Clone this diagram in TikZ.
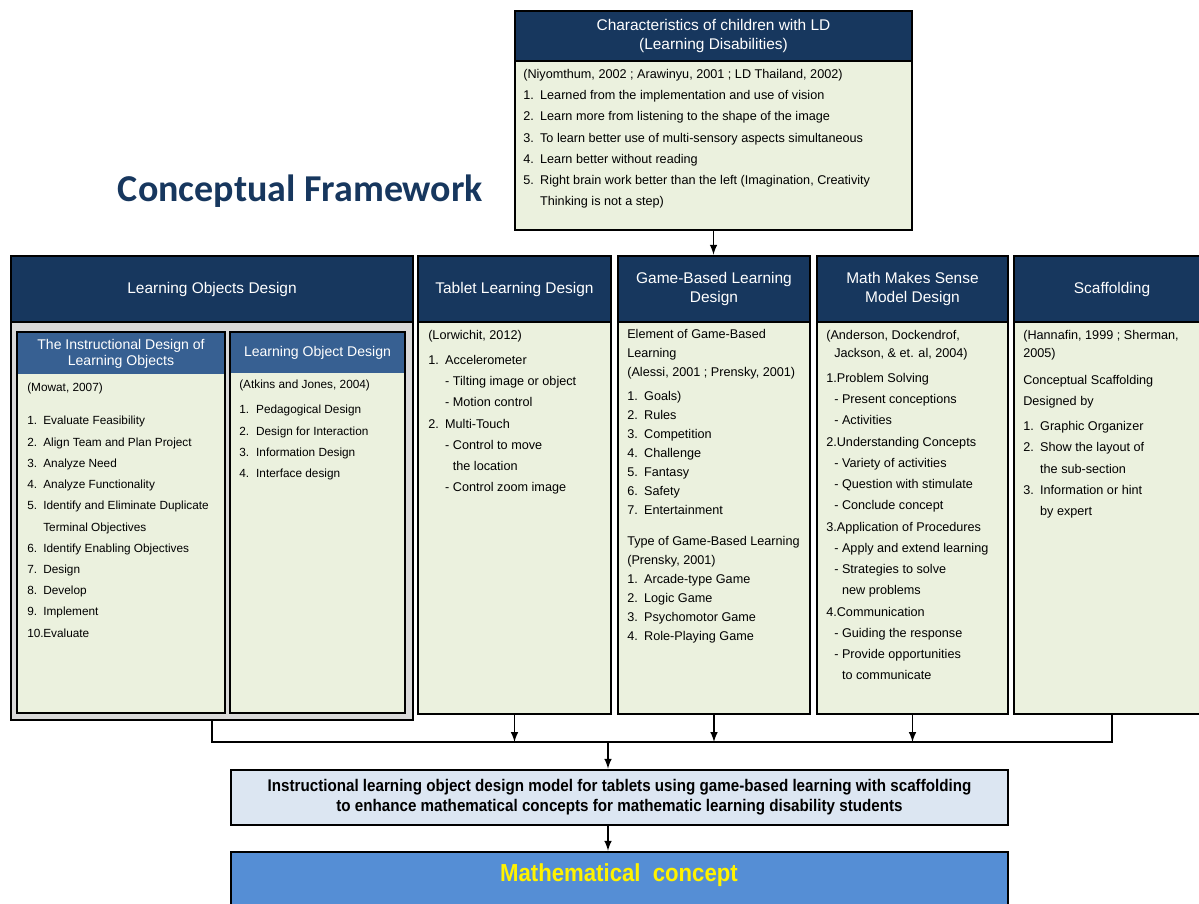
\documentclass[tikz,border=0pt]{standalone}
\usepackage{fontspec}
\setmainfont{Liberation Sans}
\newfontfamily\titlefont{Carlito}
\newfontfamily\narrowfont[FakeStretch=0.9]{Liberation Sans}
\usetikzlibrary{fit}

\definecolor{navy}{HTML}{17375E}
\definecolor{subblue}{HTML}{376092}
\definecolor{paleolive}{HTML}{EBF1DE}
\definecolor{panelgray}{HTML}{D9D9D9}
\definecolor{paleblue}{HTML}{DCE6F2}
\definecolor{midblue}{HTML}{558ED5}

% numbered entry and hanging indent
\newcommand{\itemno}[3][12pt]{\makebox[#1][l]{#2}#3}
\newcommand{\ind}{\hspace*{12pt}}

\begin{document}
\begin{tikzpicture}[x=0.025cm, y=-0.025cm,
    box/.style={draw=black, line width=1.8pt, inner sep=0pt},
    headbox/.style={box, fill=navy},
    headtext/.style={text=white, align=center, inner sep=0pt,
      font=\fontsize{11}{14.2}\selectfont},
    bodybox/.style={box, fill=paleolive},
    subhead/.style={inner sep=0pt, fill=subblue},
    subtext/.style={text=white, align=center, inner sep=0pt,
      font=\fontsize{10}{11.4}\selectfont},
    bodytext/.style={anchor=north west, inner sep=0pt, align=left,
      font=\fontsize{9}{15.1}\selectfont},
    wire/.style={line width=1.4pt},
    link/.style={wire, -latex}]

  \useasboundingbox (0,0) rectangle (1199,903);

  % Title
  \node[anchor=west, text=navy, font=\titlefont\bfseries\fontsize{27}{27}\selectfont]
    (title) at (113,191) {Conceptual Framework};

  % Characteristics box on top
  \node[bodybox, fit={(515,11) (912,230)}] (chars) {};
  \node[headbox, fit={(515,11) (912,61)}] (charshead) {};
  \node[headtext] (charstitle) at (charshead.center)
    {Characteristics of children with LD\\(Learning Disabilities)};
  \node[bodytext] (charslist) at (523,69) {%
    (Niyomthum, 2002 ; Arawinyu, 2001 ; LD Thailand, 2002)\\
    \itemno{1.}{Learned from the implementation and use of vision}\\
    \itemno{2.}{Learn more from listening to the shape of the image}\\
    \itemno{3.}{To learn better use of multi-sensory aspects simultaneous}\\
    \itemno{4.}{Learn better without reading}\\
    \itemno{5.}{Right brain work better than the left (Imagination, Creativity}\\
    \ind Thinking is not a step)};

  % Learning objects design with its two inner boxes
  \node[box, fill=panelgray, fit={(11,256) (413,720)}] (lo) {};
  \node[headbox, fit={(11,256) (413,322)}] (lohead) {};
  \node[headtext] (lotitle) at (lohead.center) {Learning Objects Design};

  \node[box, draw=none, fill=paleolive, fit={(18,333) (224,712)}] (idlo) {};
  \node[subhead, fit={(18,333) (224,374)}] (idlohead) {};
  \node[subtext] (idlotitle) at (idlohead.center)
    {The Instructional Design of\\Learning Objects};
  \draw[line width=1.5pt] (idlo.north west) rectangle (idlo.south east);
  \node[bodytext, font=\fontsize{8.4}{15.1}\selectfont] (idlolist) at (27,383) {%
    (Mowat, 2007)\\[8.4pt]
    \itemno[11.4pt]{1.}{Evaluate Feasibility}\\
    \itemno[11.4pt]{2.}{Align Team and Plan Project}\\
    \itemno[11.4pt]{3.}{Analyze Need}\\
    \itemno[11.4pt]{4.}{Analyze Functionality}\\
    \itemno[11.4pt]{5.}{Identify and Eliminate Duplicate}\\
    \hspace*{11.4pt}Terminal Objectives\\
    \itemno[11.4pt]{6.}{Identify Enabling Objectives}\\
    \itemno[11.4pt]{7.}{Design}\\
    \itemno[11.4pt]{8.}{Develop}\\
    \itemno[11.4pt]{9.}{Implement}\\
    \itemno[11.4pt]{10.}{Evaluate}};

  \node[box, draw=none, fill=paleolive, fit={(231,333) (404,712)}] (lod) {};
  \node[subhead, fit={(231,333) (404,373)}] (lodhead) {};
  \node[subtext] (lodtitle) at (lodhead.center) {Learning Object Design};
  \draw[line width=1.5pt] (lod.north west) rectangle (lod.south east);
  \node[bodytext, font=\fontsize{8.4}{15.1}\selectfont] (lodlist) at (239,380) {%
    (Atkins and Jones, 2004)\\[2.7pt]
    \itemno{1.}{Pedagogical Design}\\
    \itemno{2.}{Design for Interaction}\\
    \itemno{3.}{Information Design}\\
    \itemno{4.}{Interface design}};

  % Tablet learning design
  \node[bodybox, fit={(418,256) (611,714)}] (tablet) {};
  \node[headbox, fit={(418,256) (611,322)}] (tablethead) {};
  \node[headtext] (tablettitle) at (tablethead.center) {Tablet Learning Design};
  \node[bodytext] (tabletlist) at (428,330) {%
    (Lorwichit, 2012)\\[2.7pt]
    \itemno{1.}{Accelerometer}\\
    \ind- Tilting image or object\\
    \ind- Motion control\\
    \itemno{2.}{Multi-Touch}\\
    \ind- Control to move\\
    \ind\phantom{- }the location\\
    \ind- Control zoom image};

  % Game-based learning design
  \node[bodybox, fit={(618,256) (810,714)}] (game) {};
  \node[headbox, fit={(618,256) (810,322)}] (gamehead) {};
  \node[headtext] (gametitle) at (gamehead.center) {Game-Based Learning\\Design};
  \node[bodytext, font=\fontsize{9}{13.5}\selectfont] (gamelist) at (627,329) {%
    Element of Game-Based\\
    Learning\\
    (Alessi, 2001 ; Prensky, 2001)\\[3.5pt]
    \itemno{1.}{Goals)}\\
    \itemno{2.}{Rules}\\
    \itemno{3.}{Competition}\\
    \itemno{4.}{Challenge}\\
    \itemno{5.}{Fantasy}\\
    \itemno{6.}{Safety}\\
    \itemno{7.}{Entertainment}\\[8.5pt]
    Type of Game-Based Learning\\
    (Prensky, 2001)\\
    \itemno{1.}{Arcade-type Game}\\
    \itemno{2.}{Logic Game}\\
    \itemno{3.}{Psychomotor Game}\\
    \itemno{4.}{Role-Playing Game}};

  % Math makes sense model design
  \node[bodybox, fit={(817,256) (1008,714)}] (math) {};
  \node[headbox, fit={(817,256) (1008,322)}] (mathhead) {};
  \node[headtext] (mathtitle) at (mathhead.center) {Math Makes Sense\\Model Design};
  \node[bodytext] (mathlist) at (826,330) {%
    (Anderson, Dockendrof,\\[-2.3pt]
    \hspace*{5.7pt}Jackson, \& et. al, 2004)\\[2.7pt]
    1.Problem Solving\\
    \hspace*{5.7pt}- Present conceptions\\
    \hspace*{5.7pt}- Activities\\
    2.Understanding Concepts\\
    \hspace*{5.7pt}- Variety of activities\\
    \hspace*{5.7pt}- Question with stimulate\\
    \hspace*{5.7pt}- Conclude concept\\
    3.Application of Procedures\\
    \hspace*{5.7pt}- Apply and extend learning\\
    \hspace*{5.7pt}- Strategies to solve\\
    \hspace*{5.7pt}\phantom{- }new problems\\
    4.Communication\\
    \hspace*{5.7pt}- Guiding the response\\
    \hspace*{5.7pt}- Provide opportunities\\
    \hspace*{5.7pt}\phantom{- }to communicate};

  % Scaffolding, running off the right edge
  \node[bodybox, fit={(1014,256) (1210,714)}] (scaf) {};
  \node[headbox, fit={(1014,256) (1210,322)}] (scafhead) {};
  \node[headtext] (scaftitle) at (scafhead.center) {Scaffolding};
  \node[bodytext] (scaflist) at (1023,330) {%
    (Hannafin, 1999 ; Sherman,\\[-2.3pt]
    2005)\\[4pt]
    Conceptual Scaffolding\\
    Designed by\\[2.7pt]
    \itemno{1.}{Graphic Organizer}\\
    \itemno{2.}{Show the layout of}\\
    \ind the sub-section\\
    \itemno{3.}{Information or hint}\\
    \ind by expert};

  % Model and concept boxes at the bottom
  \node[box, fill=paleblue, fit={(231,770) (1008,825)}] (model) {};
  \node[align=center, inner sep=0pt,
    font=\narrowfont\bfseries\fontsize{12}{14.2}\selectfont] (modeltext) at (model.center)
    {Instructional learning object design model for tablets using game-based learning with scaffolding\\
     to enhance mathematical concepts for mathematic learning disability students};
  \node[box, fill=midblue, fit={(231,852) (1008,915)}] (concept) {};
  \node[text=yellow, font=\narrowfont\bfseries\fontsize{17.5}{17.5}\selectfont]
    (concepttitle) at (619,875) {Mathematical\ \ concept};

  % Connectors
  \coordinate (bus) at (608,742);
  \draw[link] (chars.south) -- (chars.south |- game.north);
  \draw[wire] (lo.south) -- (lo.south |- bus) -- (scaf.south |- bus) -- (scaf.south);
  \draw[link] (tablet.south) -- (tablet.south |- bus);
  \draw[link] (game.south) -- (game.south |- bus);
  \draw[link] (math.south) -- (math.south |- bus);
  \draw[link] (bus) -- (bus |- model.north);
  \draw[link] (bus |- model.south) -- (bus |- concept.north);
\end{tikzpicture}
\end{document}
